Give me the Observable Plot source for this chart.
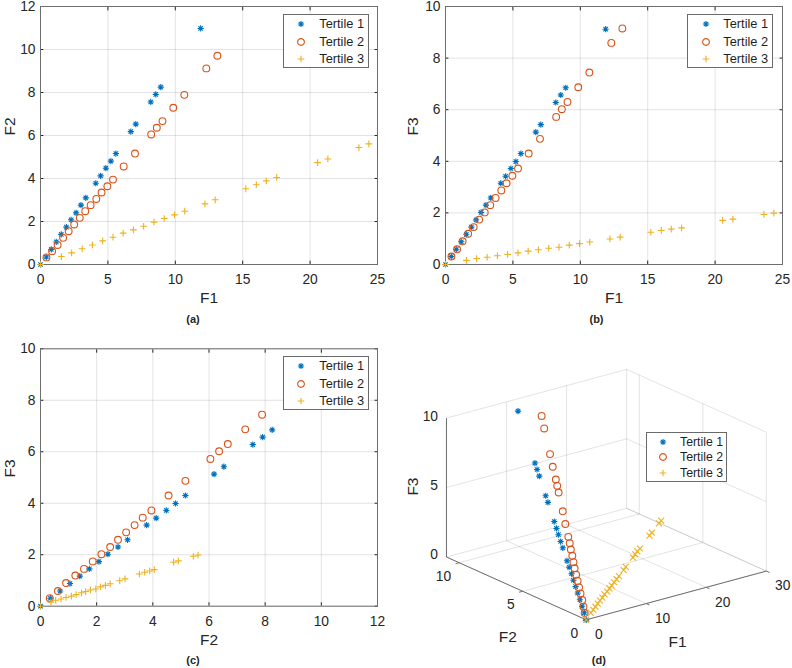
<!DOCTYPE html>
<html><head><meta charset="utf-8">
<script src="https://cdn.jsdelivr.net/npm/d3@7"></script>
<script src="https://cdn.jsdelivr.net/npm/@observablehq/plot@0.6"></script>
<style>
body{margin:0;background:#fff;}
#root{position:relative;width:792px;height:668px;background:#fff;font-family:"Liberation Sans",Arial,Helvetica,sans-serif;color:#262626;overflow:hidden}
.panel{position:absolute}
.legend{position:absolute;background:#fff;border:1px solid #6a6a6a;box-sizing:border-box}
.legend .lab{position:absolute;white-space:nowrap;transform:translateY(-50%);line-height:1;color:#1f1f1f}
</style></head><body><div id="root"></div><script>
// ---------------- data ----------------
const seriesNames = ["Tertile 1", "Tertile 2", "Tertile 3"];
const tertile1F1 = [0,0.43,0.80,1.17,1.54,1.92,2.27,2.64,3.00,3.36,4.10,4.46,4.85,5.22,5.59,6.70,7.07,8.18,8.55,8.92,11.88];
const tertile1F2 = [0,0.35,0.70,1.05,1.40,1.74,2.08,2.40,2.76,3.10,3.78,4.12,4.48,4.81,5.16,6.18,6.53,7.56,7.91,8.25,10.98];
const tertile1F3 = [0,0.31,0.59,0.88,1.17,1.45,1.73,2.02,2.30,2.58,3.15,3.42,3.72,3.99,4.30,5.13,5.42,6.28,6.57,6.85,9.12];
const tertile2F1 = [0.44,0.86,1.27,1.68,2.09,2.50,2.91,3.32,3.72,4.14,4.53,4.96,5.38,6.17,7.01,8.21,8.63,9.05,9.85,10.67,12.30,13.12];
const tertile2F2 = [0.33,0.62,0.91,1.24,1.55,1.86,2.17,2.48,2.76,3.05,3.35,3.64,3.95,4.56,5.16,6.05,6.36,6.67,7.29,7.89,9.12,9.71];
const tertile2F3 = [0.31,0.59,0.90,1.19,1.45,1.74,2.02,2.30,2.58,2.87,3.15,3.44,3.72,4.30,4.87,5.72,6.02,6.30,6.87,7.44,8.59,9.15];
const tertile3F1 = [0,1.55,2.31,3.09,3.85,4.61,5.38,6.13,6.89,7.65,8.42,9.18,9.94,10.70,12.20,12.96,15.23,16.01,16.75,17.52,20.56,21.32,23.62,24.36];
const tertile3F2 = [0,0.37,0.54,0.73,0.91,1.10,1.27,1.46,1.61,1.78,1.97,2.14,2.31,2.48,2.82,3.01,3.52,3.71,3.89,4.05,4.74,4.91,5.44,5.61];
const tertile3F3 = [0,0.16,0.23,0.28,0.34,0.39,0.45,0.52,0.57,0.63,0.67,0.75,0.81,0.87,0.99,1.06,1.25,1.32,1.37,1.42,1.71,1.76,1.94,1.99];
// number of points of each tertile that appear in panel (c)
const panelCCounts = [20, 20, 24];

const ticksA_x = [0,5,10,15,20,25], ticksA_y = [0,2,4,6,8,10,12];
const ticksB_x = [0,5,10,15,20,25], ticksB_y = [0,2,4,6,8,10];
const ticksC_x = [0,2,4,6,8,10,12], ticksC_y = [0,2,4,6,8,10];
const ticksD_F1 = [0,10,20,30], ticksD_F2 = [0,5,10], ticksD_F3 = [0,5,10];
const limD = {F1: 30, F2: 11, F3: 10};

// ---------------- styles ----------------
const colors = ["#0072BD", "#D95319", "#EDB120"];
// MATLAB-like 8-arm asterisk
const asterisk8 = {
  draw(ctx, size) {
    const r = Math.sqrt(size / Math.PI), q = r * Math.SQRT1_2;
    ctx.moveTo(-r, 0); ctx.lineTo(r, 0);
    ctx.moveTo(0, -r); ctx.lineTo(0, r);
    ctx.moveTo(-q, -q); ctx.lineTo(q, q);
    ctx.moveTo(-q, q); ctx.lineTo(q, -q);
  }
};
const symbols2D = [asterisk8, "circle", "plus"];
const symbols3D = [asterisk8, "circle", "times"];
const radii = [3.1, 3.4, 2.3];
const radii3D = [3.1, 3.4, 2.8];
const legendSymbols = [asterisk8, d3.symbolCircle, d3.symbolPlus];
const textColor = "#262626", frameColor = "#6e6e6e", gridStroke = "#262626", gridOpacity = 0.13;
const FONT = '"Liberation Sans", Arial, Helvetica, sans-serif';

const tertiles = [
  tertile1F1.map((v, i) => ({s: 0, F1: v, F2: tertile1F2[i], F3: tertile1F3[i]})),
  tertile2F1.map((v, i) => ({s: 1, F1: v, F2: tertile2F2[i], F3: tertile2F3[i]})),
  tertile3F1.map((v, i) => ({s: 2, F1: v, F2: tertile3F2[i], F3: tertile3F3[i]}))
];

const root = document.getElementById("root");

function place(el, left, top) {
  el.classList.add("panel");
  el.style.left = left + "px"; el.style.top = top + "px";
  root.appendChild(el);
}

function scatter2D(o) {
  const dots = tertiles.map((pts, k) => Plot.dot(o.counts ? pts.slice(0, o.counts[k]) : pts, {
    x: o.xKey, y: o.yKey, symbol: symbols2D[k], r: radii[k], stroke: colors[k], strokeWidth: 1.1, fill: "none"
  }));
  return Plot.plot({
    width: 396, height: 334,
    marginLeft: o.mL, marginRight: o.mR, marginTop: o.mT, marginBottom: o.mB,
    x: {domain: o.xDomain, label: null},
    y: {domain: o.yDomain, label: null},
    style: {fontFamily: FONT, fontSize: "13.8px", color: textColor, background: "#fff", overflow: "visible"},
    marks: [
      Plot.gridX(o.xTicks, {stroke: gridStroke, strokeOpacity: gridOpacity}),
      Plot.gridY(o.yTicks, {stroke: gridStroke, strokeOpacity: gridOpacity}),
      Plot.axisX(o.xTicks, {anchor: "bottom", tickSize: -3.4, fill: "none", label: null, stroke: textColor}),
      Plot.axisX(o.xTicks, {anchor: "top", tickSize: -3.4, fill: "none", label: null, stroke: textColor}),
      Plot.axisY(o.yTicks, {anchor: "left", tickSize: -3.4, fill: "none", label: null, stroke: textColor}),
      Plot.axisY(o.yTicks, {anchor: "right", tickSize: -3.4, fill: "none", label: null, stroke: textColor}),
      Plot.axisX(o.xTicks, {anchor: "bottom", tickSize: 0, tickPadding: 10, label: null}),
      Plot.axisY(o.yTicks, {anchor: "left", tickSize: 0, tickPadding: 5, label: null}),
      Plot.frame({stroke: frameColor}),
      ...dots,
      Plot.text([o.xLabel], {frameAnchor: "bottom", dy: 34, fontSize: 15.5, lineAnchor: "middle"}),
      Plot.text([o.yLabel], {frameAnchor: "left", dx: o.yLabelDx, rotate: -90, fontSize: 15.5, lineAnchor: "middle"}),
      Plot.text([o.caption], {frameAnchor: "bottom", dx: o.capDx, dy: o.capDy, fontSize: 11, fontWeight: "bold", lineAnchor: "middle"})
    ]
  });
}

function legend(o) {
  const div = document.createElement("div");
  div.className = "legend";
  Object.assign(div.style, {left: o.left + "px", top: o.top + "px", width: o.width + "px", height: o.height + "px"});
  seriesNames.forEach((name, i) => {
    const svg = d3.create("svg").attr("width", 16).attr("height", 16)
      .style("position", "absolute").style("left", (o.markerX - 8) + "px").style("top", (o.rowY[i] - 8) + "px");
    svg.append("path").attr("transform", "translate(8,8)")
      .attr("d", d3.symbol(o.syms[i], Math.PI * o.r[i] * o.r[i])())
      .attr("fill", "none").attr("stroke", colors[i]).attr("stroke-width", 1.1);
    div.appendChild(svg.node());
    const sp = document.createElement("span");
    sp.className = "lab";
    sp.textContent = name;
    Object.assign(sp.style, {left: o.textX + "px", top: o.rowY[i] + "px", fontSize: o.fontSize + "px"});
    div.appendChild(sp);
  });
  root.appendChild(div);
}

// ---------------- panel (a) ----------------
place(scatter2D({xKey: "F1", yKey: "F2", xDomain: [0, 25], yDomain: [0, 12], xTicks: ticksA_x, yTicks: ticksA_y,
  mL: 40, mR: 19, mT: 6, mB: 70, xLabel: "F1", yLabel: "F2", yLabelDx: -30, caption: "(a)", capDx: -16, capDy: 54.5}), 0, 0);
// ---------------- panel (b) ----------------
place(scatter2D({xKey: "F1", yKey: "F3", xDomain: [0, 25], yDomain: [0, 10], xTicks: ticksB_x, yTicks: ticksB_y,
  mL: 49, mR: 10, mT: 6, mB: 70, xLabel: "F1", yLabel: "F3", yLabelDx: -32, caption: "(b)", capDx: -17.5, capDy: 54.5}), 396, 0);
// ---------------- panel (c) ----------------
place(scatter2D({xKey: "F2", yKey: "F3", xDomain: [0, 12], yDomain: [0, 10], xTicks: ticksC_x, yTicks: ticksC_y, counts: panelCCounts,
  mL: 40, mR: 19, mT: 14.3, mB: 62.3, xLabel: "F2", yLabel: "F3", yLabelDx: -30, caption: "(c)", capDx: -16, capDy: 54.3}), 0, 334);

// ---------------- panel (d): 3-D view ----------------
const view = {az: 37.8, el: 20.4, zAspect: 0.65, unitPx: 228, originX: 189.7, originY: 285.3};
const AZ = view.az * Math.PI / 180, EL = view.el * Math.PI / 180;
function P(f1, f2, f3) {
  const nx = f1 / limD.F1, ny = f2 / limD.F2, nz = f3 / limD.F3;
  return [nx * Math.cos(AZ) - ny * Math.sin(AZ),
          (nx * Math.sin(AZ) + ny * Math.cos(AZ)) * Math.sin(EL) + nz * view.zAspect * Math.cos(EL)];
}
const grid3 = [];
ticksD_F1.forEach(t => grid3.push([[t, 0, 0], [t, limD.F2, 0]], [[t, limD.F2, 0], [t, limD.F2, limD.F3]]));
ticksD_F2.forEach(t => grid3.push([[0, t, 0], [limD.F1, t, 0]], [[limD.F1, t, 0], [limD.F1, t, limD.F3]]));
ticksD_F3.forEach(t => grid3.push([[0, limD.F2, t], [limD.F1, limD.F2, t]], [[limD.F1, 0, t], [limD.F1, limD.F2, t]]));
const axes3 = [
  [[0, 0, 0], [limD.F1, 0, 0]],
  [[0, 0, 0], [0, limD.F2, 0]],
  [[0, limD.F2, 0], [0, limD.F2, limD.F3]]
];
const tickLen = {F1: 0.25, F2: 0.6};
const ticks3 = [
  ...ticksD_F1.map(t => [[t, 0, 0], [t, -tickLen.F1, 0]]),
  ...ticksD_F2.map(t => [[0, t, 0], [-tickLen.F2, t, 0]])
];
const seg = (arr, opts) => Plot.link(arr, {
  x1: s => P(...s[0])[0], y1: s => P(...s[0])[1], x2: s => P(...s[1])[0], y2: s => P(...s[1])[1], ...opts
});
const plotD = Plot.plot({
  width: 396, height: 334, margin: 0,
  x: {domain: [-view.originX / view.unitPx, (396 - view.originX) / view.unitPx], axis: null},
  y: {domain: [-(334 - view.originY) / view.unitPx, view.originY / view.unitPx], axis: null},
  style: {fontFamily: FONT, fontSize: "13.8px", color: textColor, background: "transparent", overflow: "visible"},
  marks: [
    seg(grid3, {stroke: gridStroke, strokeOpacity: gridOpacity}),
    seg(axes3, {stroke: frameColor}),
    seg(ticks3, {stroke: frameColor}),
    ...tertiles.map((pts, k) => Plot.dot(pts, {
      x: d => P(d.F1, d.F2, d.F3)[0], y: d => P(d.F1, d.F2, d.F3)[1],
      symbol: symbols3D[k], r: radii3D[k], stroke: colors[k], strokeWidth: 1.1, fill: "none"
    })),
    Plot.text(ticksD_F3, {x: t => P(0, limD.F2, t)[0], y: t => P(0, limD.F2, t)[1], text: d => String(d), textAnchor: "end", dx: -8.4, dy: -2}),
    Plot.text(ticksD_F2, {x: t => P(0, t, 0)[0], y: t => P(0, t, 0)[1], text: d => String(d), textAnchor: "end", dx: -8, dy: 13.5}),
    Plot.text(ticksD_F1, {x: t => P(t, 0, 0)[0], y: t => P(t, 0, 0)[1], text: d => String(d), textAnchor: "start", dx: 8.7, dy: 14.8}),
    Plot.text(["F1"], {x: () => P(limD.F1 / 2, 0, 0)[0], y: () => P(limD.F1 / 2, 0, 0)[1], dx: 1.3, dy: 46.7, fontSize: 15.5}),
    Plot.text(["F2"], {x: () => P(0, limD.F2 / 2, 0)[0], y: () => P(0, limD.F2 / 2, 0)[1], dx: -8.6, dy: 49, fontSize: 15.5}),
    Plot.text(["F3"], {x: () => P(0, limD.F2, limD.F3 / 2)[0], y: () => P(0, limD.F2, limD.F3 / 2)[1], dx: -33, dy: -1, rotate: -90, fontSize: 15.5}),
    Plot.text(["(d)"], {frameAnchor: "bottom", dx: 4.3, dy: -8, fontSize: 11, fontWeight: "bold", lineAnchor: "middle"})
  ]
});
place(plotD, 396, 334);

// ---------------- legends ----------------
legend({left: 282.7, top: 14, width: 86.6, height: 54.3, markerX: 17.3, textX: 35.6, rowY: [9.3, 27, 44.3], fontSize: 12.8, syms: legendSymbols, r: radii});
legend({left: 687.3, top: 14, width: 86, height: 54.3, markerX: 17.7, textX: 35, rowY: [9.3, 27, 44.3], fontSize: 12.8, syms: legendSymbols, r: radii});
legend({left: 282.7, top: 355.7, width: 86.6, height: 54.3, markerX: 17.3, textX: 35.6, rowY: [9.3, 27, 44.3], fontSize: 12.8, syms: legendSymbols, r: radii});
legend({left: 645.7, top: 431.7, width: 81.6, height: 50, markerX: 16, textX: 33.3, rowY: [9, 24.6, 40.6], fontSize: 12.3, syms: legendSymbols, r: radii});
</script></body></html>
